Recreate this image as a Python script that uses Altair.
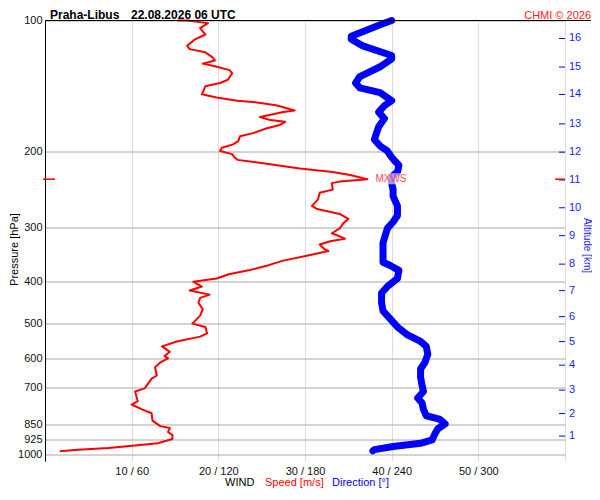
import altair as alt
import pandas as pd

FONT = "Liberation Sans"

# ---- wind speed profile (pressure hPa, speed m/s) ----
speed_p = [100, 100, 101.4, 104.1, 105.9, 107.7, 110.5, 114.4, 116.4, 118.4, 121.4, 123.6,
           125.7, 127.5, 130.1, 132.3, 136.9, 139.3, 141.7, 146.6, 147.9, 150.4, 153.0, 154.4,
           157.0, 161.1, 162.5, 166.8, 169.6, 171.1, 174.0, 177.1, 181.7, 184.8, 189.6, 192.9,
           196.3, 199.7, 203.1, 206.0, 209.4, 213.7, 219.3, 223.2, 227.0, 232.0, 235.0, 236.9,
           245.2, 249.4, 258.2, 267.2, 271.8, 278.9, 286.2, 293.6, 301.2, 309.0, 314.3, 318.2,
           322.5, 328.1, 336.7, 339.4, 348.3, 357.3, 366.0, 376.2, 384.0, 392.8, 399.6, 410.0,
           418.5, 427.9, 435.4, 446.7, 462.1, 478.3, 499.0, 507.9, 525.4, 534.7, 548.6, 563.0,
           579.5, 592.7, 599.8, 613.2, 629.2, 657.0, 668.2, 703.4, 715.4, 753.1, 766.4, 786.3,
           802.6, 834.6, 859.4, 868.3, 886.3, 901.5, 920.2, 941.2, 952.4, 965.7, 973.7, 982.2]
speed_ms = [15.3, 16.4, 18.8, 17.9, 18.2, 18.5, 17.3, 16.4, 16.7, 18.5, 19.3, 19.6,
            18.2, 19.6, 21.3, 21.6, 21.1, 20.2, 18.5, 18.2, 18.1, 19.8, 22.2, 24.5,
            26.8, 28.8, 27.5, 24.8, 26.0, 27.7, 27.1, 25.6, 24.0, 22.5, 22.3, 21.7,
            20.4, 20.2, 21.6, 21.8, 22.2, 25.6, 29.4, 33.2, 35.2, 37.2, 34.0, 33.1,
            33.2, 31.7, 31.5, 30.8, 31.4, 34.0, 35.0, 34.4, 34.0, 33.1, 34.0, 34.6,
            32.9, 31.7, 32.3, 32.7, 30.2, 27.5, 25.8, 23.5, 21.2, 19.8, 17.1, 18.1,
            16.7, 19.0, 17.9, 17.7, 18.2, 17.9, 17.0, 18.5, 18.7, 17.9, 15.2, 13.5,
            14.4, 13.8, 14.2, 13.3, 12.7, 12.9, 12.3, 11.5, 10.4, 10.7, 10.0, 11.2,
            12.3, 12.4, 13.3, 14.4, 14.2, 14.7, 14.7, 13.0, 10.4, 7.3, 3.8, 1.7]

# ---- wind direction profile (pressure hPa, direction deg) ----
dir_p = [100, 102.3, 108.7, 110.5, 114.4, 120.4, 122.5, 127.8, 134.6, 139.3, 142.9, 146.6,
         153.0, 157.0, 162.5, 168.2, 175.6, 188.0, 194.6, 199.7, 206.6, 215.6, 223.2, 229.0,
         236.9, 245.2, 253.9, 267.2, 281.3, 291.1, 301.2, 317.1, 325.4, 342.5, 360.4, 366.6,
         376.2, 392.8, 410.0, 424.3, 435.4, 446.7, 466.2, 486.5, 507.9, 530.0, 548.6, 563.0,
         587.6, 613.2, 634.7, 662.4, 691.5, 715.4, 740.4, 759.7, 786.3, 813.4, 827.7, 849.3,
         871.4, 894.1, 924.9, 941.2, 957.3, 973.7, 980.0]
dir_deg = [240, 232, 212, 212, 220, 240, 240, 232, 218, 215, 218, 232,
           240, 235, 231, 235, 231, 228, 232, 237, 240, 245, 244, 240,
           240, 241, 241, 244, 244, 241, 237, 235, 234, 234, 234, 239,
           245, 244, 237, 233, 233, 233, 234, 239, 244, 251, 260, 264,
           265, 263, 260, 260, 261, 262, 258, 261, 262, 264, 273, 277,
           272, 270, 268, 260, 241, 228, 227]

# ---- axes ----
p_ticks = [100, 200, 300, 400, 500, 600, 700, 850, 925, 1000]
x_ticks = [10, 20, 30, 40, 50, 60]
alt_km = [1, 2, 3, 4, 5, 6, 7, 8, 9, 10, 11, 12, 13, 14, 15, 16]
alt_p = [906, 804, 710, 622, 549, 481, 419, 364, 313, 270, 233, 201, 173, 148, 128, 110]

# ---- maximum wind ----
mxws_p = [232]
mxws_ms = [37.2]

speed_df = pd.DataFrame({"p": speed_p, "s": speed_ms, "i": range(len(speed_p))})
dir_df = pd.DataFrame({"p": dir_p, "d": dir_deg, "i": range(len(dir_p))})
alt_df = pd.DataFrame({"p": alt_p, "km": [str(k) for k in alt_km]})
mx_df = pd.DataFrame({"p": mxws_p, "s": mxws_ms})
one = pd.DataFrame({"a": [0]})

BLUE = "#0000ff"
RED = "#ff0000"

xscale = alt.Scale(domain=[0, 60], nice=False, zero=False)
dscale = alt.Scale(domain=[0, 360], nice=False, zero=False)
yscale = alt.Scale(type="log", domain=[100, 1034], reverse=True, nice=False)

speed = alt.Chart(speed_df).mark_line(color=RED, strokeWidth=2, strokeJoin="round").encode(
    x=alt.X("s:Q", scale=xscale,
            axis=alt.Axis(values=x_ticks, grid=True, gridColor="#dcdcdc", domain=False,
                          ticks=False, tickSize=0, labelPadding=4, labelFontSize=11,
                          labelColor="#111111", title=None,
                          labelExpr="datum.value == 60 ? '' : datum.value + ' / ' + datum.value * 6")),
    y=alt.Y("p:Q", scale=yscale,
            axis=alt.Axis(values=p_ticks, format="d", grid=True, gridColor="#a8a8a8",
                          domain=True, domainColor="#000000", ticks=False, tickSize=0,
                          labelPadding=3, labelFontSize=11, labelColor="#111111", title=None,
                          labelFlush=False, labelOverlap=False)),
    order="i:Q",
)

direction = alt.Chart(dir_df).mark_line(color=BLUE, strokeWidth=7, strokeCap="round",
                                        strokeJoin="round").encode(
    x=alt.X("d:Q", scale=dscale, axis=None),
    y=alt.Y("p:Q", scale=yscale, axis=None),
    order="i:Q",
)

alt_ticks = alt.Chart(alt_df).mark_rule(color=BLUE, strokeWidth=1).encode(
    y=alt.Y("p:Q", scale=yscale, axis=None),
    x=alt.value(514), x2=alt.value(520),
)
alt_labels = alt.Chart(alt_df).mark_text(color="#1a1aff", fontSize=11, align="left",
                                         baseline="middle").encode(
    y=alt.Y("p:Q", scale=yscale, axis=None),
    x=alt.value(524), text="km:N",
)

mx_left = alt.Chart(mx_df).mark_rule(color=RED, strokeWidth=1.5).encode(
    y=alt.Y("p:Q", scale=yscale, axis=None), x=alt.value(-2), x2=alt.value(10))
mx_right = alt.Chart(mx_df).mark_rule(color=RED, strokeWidth=1.5).encode(
    y=alt.Y("p:Q", scale=yscale, axis=None), x=alt.value(510), x2=alt.value(520))
mx_box = alt.Chart(mx_df).mark_rect(fill="white", opacity=0.6, xOffset=7, x2Offset=39,
                                    yOffset=-6, y2Offset=5).encode(
    x=alt.X("s:Q", scale=xscale, axis=None), x2="s:Q",
    y=alt.Y("p:Q", scale=yscale, axis=None), y2="p:Q")
mx_text = alt.Chart(mx_df).mark_text(text="MXWS", color="#ff4d4d", fontSize=10, align="left",
                                     baseline="middle", dx=8).encode(
    x=alt.X("s:Q", scale=xscale, axis=None),
    y=alt.Y("p:Q", scale=yscale, axis=None))

top_line = alt.Chart(one).mark_rule(color="#000000", strokeWidth=1).encode(
    x=alt.value(0), x2=alt.value(546), y=alt.value(0))

def label(txt, x, y, **kw):
    return alt.Chart(one).mark_text(text=txt, **kw).encode(x=alt.value(x), y=alt.value(y))

t1 = label("Praha-Libus", 5, -1.5, fontSize=12, fontWeight="bold", align="left",
           baseline="alphabetic", color="#000000")
t2 = label("22.08.2026 06 UTC", 86, -1.5, fontSize=12, fontWeight="bold", align="left",
           baseline="alphabetic", color="#000000")
t3 = label("CHMI © 2026", 546, -1.5, fontSize=11, align="right", baseline="alphabetic",
           color="#ff2020")
ptitle = label("Pressure [hPa]", -30, 229, fontSize=11, angle=270, align="center",
               baseline="middle", color="#000000")
atitle = label("Altitude [km]", 542, 225, fontSize=10, angle=90, align="center",
               baseline="middle", color="#2020ff")
w1 = label("WIND", 180, 462.5, fontSize=11, align="left", baseline="middle", color="#000000")
w2 = label("Speed [m/s]", 220, 462.5, fontSize=11, align="left", baseline="middle", color=RED)
w3 = label("Direction [°]", 287, 462.5, fontSize=11, align="left", baseline="middle", color=BLUE)

chart = alt.layer(
    speed, direction, alt_ticks, alt_labels, mx_left, mx_right, mx_box, mx_text,
    top_line, t1, t2, t3, ptitle, atitle, w1, w2, w3,
).resolve_scale(x="independent").resolve_axis(y="independent").properties(
    width=520, height=440.5,
    autosize=alt.AutoSizeParams(type="none"),
    padding={"left": 37, "top": 12.5, "right": 27, "bottom": 27},
    background="#ffffff",
).configure(font=FONT).configure_view(strokeWidth=0).configure_axis(
    labelFont=FONT, labelFontSize=11)

chart.save("out.html", embed_options={"renderer": "svg", "actions": False})
